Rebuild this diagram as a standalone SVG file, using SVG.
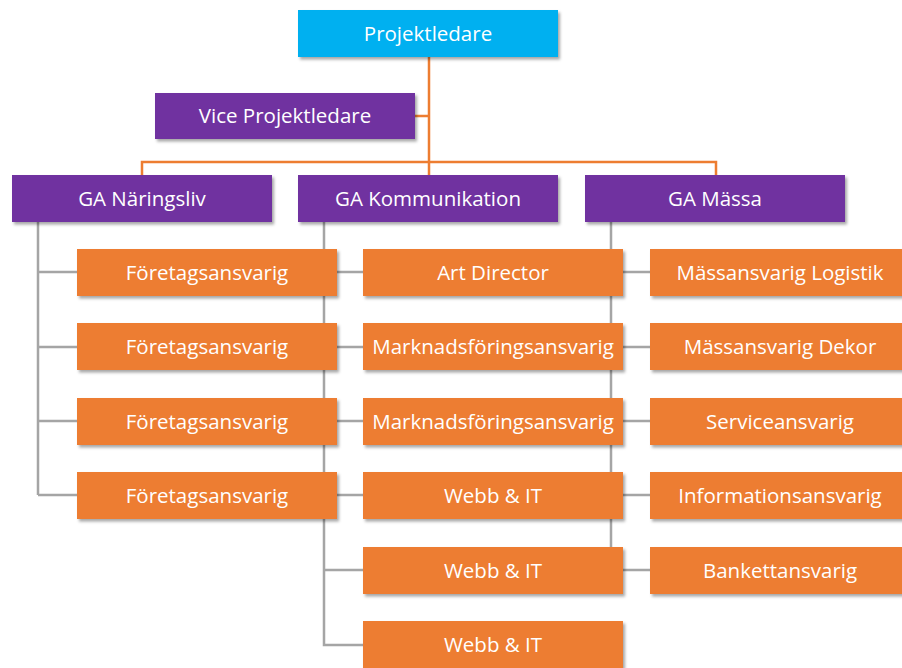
<svg xmlns="http://www.w3.org/2000/svg" width="902" height="668" viewBox="0 0 902 668">
<defs>
<filter id="sh" x="-5%" y="-20%" width="112%" height="150%">
<feDropShadow dx="2" dy="2.5" stdDeviation="1.5" flood-color="#000" flood-opacity="0.35"/>
</filter>
<style>
.box{filter:url(#sh);}
.top{fill:#00B0F0;}
.pur{fill:#7030A0;}
.ora{fill:#ED7D31;}
.lbl{font-family:"Open Sans","Noto Sans",sans-serif;font-size:20.5px;fill:#fff;text-anchor:middle;}
.oc{stroke:#ED7D31;stroke-width:2.5;fill:none;}
.gc{stroke:#A5A5A5;stroke-width:2.5;fill:none;}
</style>
</defs>
<rect width="902" height="668" fill="#fff"/>
<g id="connectors">
<path class="oc" d="M429 57V175M415 116H429M142 175V162H716V175"/>
<path class="gc" d="M38 222V495M38 272H77M38 347H77M38 421H77M38 495H77"/>
<path class="gc" d="M324 222V645H363M324 272H363M324 347H363M324 421H363M324 495H363M324 570H363"/>
<path class="gc" d="M611 222V570M611 272H650M611 347H650M611 421H650M611 495H650M611 570H650"/>
</g>
<g id="projektledare"><rect class="box top" x="298" y="10" width="260" height="47"/><text class="lbl" x="428" y="41">Projektledare</text></g>
<g id="vice"><rect class="box pur" x="155" y="93" width="260" height="46"/><text class="lbl" x="285" y="123">Vice Projektledare</text></g>
<g id="ga-naringsliv"><rect class="box pur" x="12" y="175" width="260" height="47"/><text class="lbl" x="142" y="206">GA Näringsliv</text></g>
<g id="ga-kommunikation"><rect class="box pur" x="298" y="175" width="260" height="47"/><text class="lbl" x="428" y="206">GA Kommunikation</text></g>
<g id="ga-massa"><rect class="box pur" x="585" y="175" width="260" height="47"/><text class="lbl" x="715" y="206">GA Mässa</text></g>
<g id="n1"><rect class="box ora" x="77" y="249" width="260" height="47"/><text class="lbl" x="207" y="280">Företagsansvarig</text></g>
<g id="n2"><rect class="box ora" x="77" y="323" width="260" height="47"/><text class="lbl" x="207" y="354">Företagsansvarig</text></g>
<g id="n3"><rect class="box ora" x="77" y="398" width="260" height="47"/><text class="lbl" x="207" y="429">Företagsansvarig</text></g>
<g id="n4"><rect class="box ora" x="77" y="472" width="260" height="47"/><text class="lbl" x="207" y="503">Företagsansvarig</text></g>
<g id="k1"><rect class="box ora" x="363" y="249" width="260" height="47"/><text class="lbl" x="493" y="280">Art Director</text></g>
<g id="k2"><rect class="box ora" x="363" y="323" width="260" height="47"/><text class="lbl" x="493" y="354">Marknadsföringsansvarig</text></g>
<g id="k3"><rect class="box ora" x="363" y="398" width="260" height="47"/><text class="lbl" x="493" y="429">Marknadsföringsansvarig</text></g>
<g id="k4"><rect class="box ora" x="363" y="472" width="260" height="47"/><text class="lbl" x="493" y="503">Webb &amp; IT</text></g>
<g id="k5"><rect class="box ora" x="363" y="547" width="260" height="47"/><text class="lbl" x="493" y="578">Webb &amp; IT</text></g>
<g id="k6"><rect class="box ora" x="363" y="621" width="260" height="47"/><text class="lbl" x="493" y="652">Webb &amp; IT</text></g>
<g id="m1"><rect class="box ora" x="650" y="249" width="260" height="47"/><text class="lbl" x="780" y="280">Mässansvarig Logistik</text></g>
<g id="m2"><rect class="box ora" x="650" y="323" width="260" height="47"/><text class="lbl" x="780" y="354">Mässansvarig Dekor</text></g>
<g id="m3"><rect class="box ora" x="650" y="398" width="260" height="47"/><text class="lbl" x="780" y="429">Serviceansvarig</text></g>
<g id="m4"><rect class="box ora" x="650" y="472" width="260" height="47"/><text class="lbl" x="780" y="503">Informationsansvarig</text></g>
<g id="m5"><rect class="box ora" x="650" y="547" width="260" height="47"/><text class="lbl" x="780" y="578">Bankettansvarig</text></g>
</svg>
